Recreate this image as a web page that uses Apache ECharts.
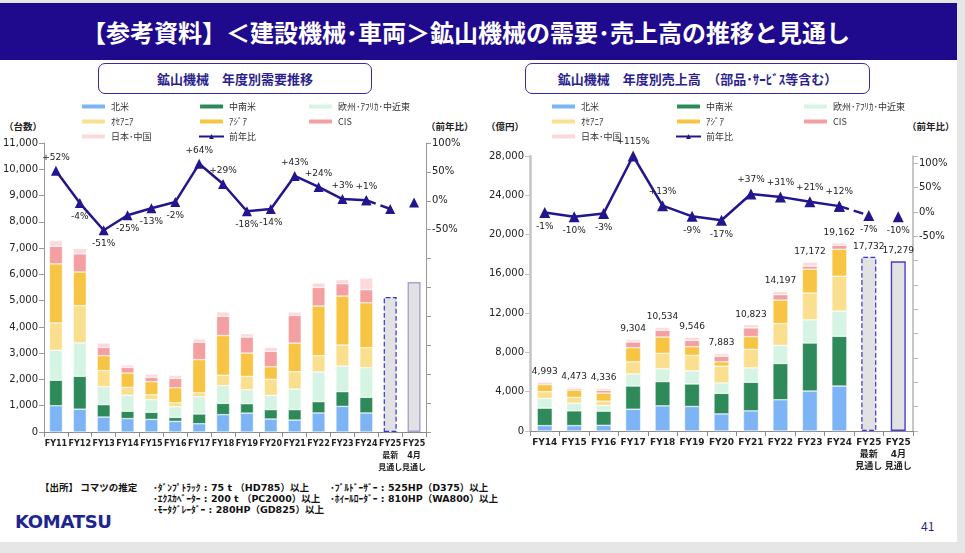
<!DOCTYPE html>
<html><head><meta charset="utf-8">
<script src="https://cdn.jsdelivr.net/npm/echarts@6/dist/echarts.min.js"></script>
<style>
html,body{margin:0;padding:0;width:965px;height:553px;overflow:hidden;background:#e6e6e6;font-family:'Noto Sans CJK JP','DejaVu Sans',sans-serif;}
#slide{position:absolute;left:0;top:3px;width:957px;height:539px;background:#fff;}
#banner{position:absolute;left:0;top:3px;width:932px;height:57px;padding-right:25px;background:#1f0a8e;color:#fff;font-weight:bold;font-size:24px;line-height:57px;text-align:center;}
.box{position:absolute;top:63px;height:29px;border:1.5px solid #3a2c9c;border-radius:7px;color:#2b1f8f;font-weight:bold;font-size:13px;line-height:29px;text-align:center;background:#fff;}
.aname{position:absolute;top:119px;font-size:9.5px;font-weight:bold;color:#222;white-space:nowrap;}
.ft{position:absolute;font-size:9.5px;font-weight:bold;color:#111;white-space:nowrap;line-height:11px;font-family:'DejaVu Sans','Noto Sans CJK JP',sans-serif;}
#logo{position:absolute;left:15px;top:511px;font-family:'DejaVu Sans',sans-serif;font-weight:bold;font-size:18px;color:#1c2590;letter-spacing:-0.3px;}
#page{position:absolute;left:921px;top:517px;font-size:12px;color:#2b1f8f;}
#chart{position:absolute;left:0;top:0;width:965px;height:553px;}
</style></head>
<body>
<div id="slide"></div>
<div id="banner">【参考資料】＜建設機械･車両＞鉱山機械の需要･売上高の推移と見通し</div>
<div class="box" style="left:98px;width:272px;">鉱山機械　年度別需要推移</div>
<div class="box" style="left:525px;width:343px;">鉱山機械　年度別売上高　（部品･ｻｰﾋﾞｽ等含む）</div>
<div class="aname" style="left:4px;">（台数）</div>
<div class="aname" style="left:426px;">（前年比）</div>
<div class="aname" style="left:486px;">（億円）</div>
<div class="aname" style="left:907px;">（前年比）</div>
<div class="ft" style="left:40px;top:482px;font-family:'Noto Sans CJK JP',sans-serif;">【出所】 コマツの推定</div>
<div class="ft" style="left:153px;top:482px;">･ﾀﾞﾝﾌﾟﾄﾗｯｸ : 75 t （HD785）以上</div>
<div class="ft" style="left:153px;top:493px;">･ｴｸｽｶﾍﾞｰﾀｰ : 200 t （PC2000）以上</div>
<div class="ft" style="left:153px;top:504px;">･ﾓｰﾀｸﾞﾚｰﾀﾞｰ : 280HP（GD825）以上</div>
<div class="ft" style="left:330px;top:482px;">･ﾌﾞﾙﾄﾞｰｻﾞｰ : 525HP（D375）以上</div>
<div class="ft" style="left:330px;top:493px;">･ﾎｲｰﾙﾛｰﾀﾞｰ : 810HP（WA800）以上</div>
<div id="logo">KOMATSU</div>
<div id="page">41</div>
<div id="chart"></div>
<script>
// ---------- data ----------
const regionNames = ['北米','中南米','欧州･ｱﾌﾘｶ･中近東','ｵｾｱﾆｱ','ｱｼﾞｱ','CIS','日本･中国'];
const yoyName = '前年比';

const demandCats = ['FY11','FY12','FY13','FY14','FY15','FY16','FY17','FY18','FY19','FY20','FY21','FY22','FY23','FY24','FY25\n最新\n見通し','FY25\n4月\n見通し'];
const demandNA      = [1000, 870, 570, 510, 480, 405, 315, 660, 720, 495, 455, 725, 975, 725];
const demandLatAm   = [ 970,1250, 470, 280, 270, 150, 370, 430, 355, 355, 395, 430, 560, 595];
const demandEMEA    = [1140,1270, 685, 610, 480, 405, 660, 675, 535, 545, 785,1130, 975,1130];
const demandOceania = [1040,1420, 610, 300, 190, 155, 150, 395, 505, 610, 660, 620, 800, 760];
const demandAsia    = [2250,1280, 570, 545, 495, 570,1260,1510, 890, 480,1090,1890,1865,1710];
const demandCIS     = [ 670, 690, 315, 215, 165, 355, 660, 735, 610, 585,1055, 710, 470, 495];
const demandJpCn    = [ 215, 200, 165,  90, 125, 115, 125, 165, 125, 150, 125, 165, 155, 445];
const demandOutlook = [5140, 5710];
const demandYoY     = [52,-4,-51,-25,-13,-2,64,29,-18,-14,43,24,3,1,-14,-3];
const demandYoYPos  = ['top','bottom','bottom','bottom','bottom','bottom','top','top','bottom','bottom','top','top','top','top','bottom','bottom'];

const salesCats = ['FY14','FY15','FY16','FY17','FY18','FY19','FY20','FY21','FY22','FY23','FY24','FY25\n最新\n見通し','FY25\n4月\n見通し'];
const salesNA      = [ 550, 550, 580,2220,2560,2500,1740,2050,3180,4070,4580];
const salesLatAm   = [1775,1500,1440,2360,2470,2290,2090,2910,3690,4890,5060];
const salesEMEA    = [ 990, 790, 580,1230,1300,1330,1060,1470,1850,2360,2570];
const salesOceania = [ 685, 580, 440,1230,1570,1570,1710,1880,2220,2730,3550];
const salesAsia    = [ 720, 750, 820,1440,1670, 890, 440,1300,2390,2430,2740];
const salesCIS     = [ 170, 140, 280, 580, 690, 650, 580, 890, 550, 310, 410];
const salesJpCn    = [ 103, 163, 196, 244, 274, 316, 263, 323, 317, 382, 252];
const salesTotals  = [4993,4473,4336,9304,10534,9546,7883,10823,14197,17172,19162];
const salesOutlook = [17732, 17279];
const salesYoY     = [-1,-10,-3,115,13,-9,-17,37,31,21,12,-7,-10];
const salesYoYPos  = ['bottom','bottom','bottom','top','top','bottom','bottom','top','top','top','top','bottom','bottom'];

// ---------- styles ----------
const regionColors = ['#7db4f6','#2e8a59','#d6f4e3','#fadf8e','#f8c443','#f4a0a2','#fcd9da'];
const lineColor = '#22168f';
const FONT = "'DejaVu Sans','Noto Sans CJK JP',sans-serif";
const fmtNum = v => Number(v).toLocaleString('en-US');
const fmtPct = v => (v > 0 ? '+' : '') + v + '%';

function buildSeries(cfg) {
  const n = cfg.segs[0].length;
  const out = [];
  cfg.segs.forEach((seg, k) => {
    const s = {
      name: regionNames[k], type: 'bar', stack: cfg.stack,
      xAxisIndex: cfg.xi, yAxisIndex: cfg.yl, barWidth: cfg.barWidth,
      itemStyle: { color: regionColors[k], borderColor: '#fff', borderWidth: 0.5 },
      data: cfg.cats.map((c, i) => i < n ? seg[i] : null)
    };
    if (k === cfg.segs.length - 1 && cfg.totals) {
      s.label = { show: true, position: 'top', distance: 6, fontSize: 9, color: '#222', fontFamily: FONT,
        formatter: p => fmtNum(cfg.totals[p.dataIndex]) };
    }
    out.push(s);
  });
  out.push({
    name: 'outlook', type: 'bar', stack: cfg.stack, xAxisIndex: cfg.xi, yAxisIndex: cfg.yl, barWidth: cfg.barWidth,
    label: { show: !!cfg.totals, position: 'top', distance: 6, fontSize: 9, color: '#222', fontFamily: FONT, formatter: p => fmtNum(p.value) },
    data: cfg.cats.map((c, i) => {
      if (i < n) return null;
      const j = i - n;
      return { value: cfg.outlook[j], itemStyle: j === 0
        ? { color: '#e2e2e2', borderColor: '#3535d0', borderWidth: 1.2, borderType: 'dashed' }
        : { color: '#e2e2e2', borderColor: cfg.solidBorder, borderWidth: 1.4 } };
    })
  });
  const lbl = { show: true, fontSize: 9, color: '#222', fontFamily: FONT, distance: 4, formatter: p => fmtPct(p.value) };
  const common = { type: 'line', xAxisIndex: cfg.xi, yAxisIndex: cfg.yr, symbol: 'triangle', symbolSize: cfg.sym,
    itemStyle: { color: lineColor }, z: 5 };
  out.push(Object.assign({}, common, {
    name: yoyName, lineStyle: { color: lineColor, width: 2.5 }, label: lbl,
    data: cfg.yoy.map((v, i) => i < n ? { value: v, label: { position: cfg.pos[i] } } : null)
  }));
  out.push(Object.assign({}, common, {
    name: 'yoyDash', lineStyle: { color: lineColor, width: 2.5, type: 'dashed' }, label: lbl,
    data: cfg.yoy.map((v, i) => (i === n - 1 || i === n)
      ? { value: v, label: { show: i === n && cfg.outlookLabels, position: cfg.pos[i] } } : null)
  }));
  out.push(Object.assign({}, common, {
    name: 'yoyApr', lineStyle: { width: 0 }, label: lbl,
    data: cfg.yoy.map((v, i) => i === n + 1 ? { value: v, label: { show: cfg.outlookLabels, position: cfg.pos[i] } } : null)
  }));
  return out;
}

function legends(lefts) {
  const cols = [[regionNames[0], regionNames[3], regionNames[6]], [regionNames[1], regionNames[4], yoyName], [regionNames[2], regionNames[5]]];
  return cols.map((d, c) => ({
    data: d, orient: 'vertical', left: lefts[c], top: 96, itemWidth: 25, itemHeight: 6, itemGap: 4,
    selectedMode: false, textStyle: { fontSize: 9, color: '#333', lineHeight: 11, fontFamily: "'Noto Sans CJK JP',sans-serif" }
  }));
}

const catAxis = (gi, data, lineC, fs) => ({
  type: 'category', gridIndex: gi, data: data,
  axisLine: { lineStyle: { color: lineC, width: 1 } },
  axisTick: { show: true, lineStyle: { color: lineC } },
  axisLabel: { interval: 0, fontSize: fs, fontWeight: 'bold', color: '#222', lineHeight: 12, margin: 6, fontFamily: FONT }
});
const valAxis = (gi, pos, min, max, interval, fmt, lineC, lw) => ({
  type: 'value', gridIndex: gi, position: pos, min: min, max: max, interval: interval,
  axisLine: { show: true, lineStyle: { color: lineC, width: lw } },
  axisTick: { show: true, lineStyle: { color: lineC } },
  splitLine: { show: false },
  axisLabel: { fontSize: 10, color: '#222', formatter: fmt, fontFamily: FONT, margin: 6 }
});

const option = {
  animation: false,
  textStyle: { fontFamily: FONT },
  grid: [
    { left: 41, right: 539, top: 143, bottom: 121 },
    { left: 530, right: 52, top: 156, bottom: 122 }
  ],
  legend: legends([75, 193, 302]).concat(legends([545, 670, 797])),
  xAxis: [catAxis(0, demandCats, '#8a8a8a', 8), catAxis(1, salesCats, '#8a8a8a', 9)],
  yAxis: [
    valAxis(0, 'left', 0, 11000, 1000, v => fmtNum(v), '#999', 1),
    valAxis(0, 'right', -400, 100, 50, v => (v >= -50 && v <= 100) ? v + '%' : '', '#999', 1),
    valAxis(1, 'left', 0, 28000, 4000, v => fmtNum(v), '#c4c4c4', 2.5),
    valAxis(1, 'right', -450, 115, 50, v => (v >= -50 && v <= 100) ? v + '%' : '', '#b5b5b5', 1.5)
  ],
  series: buildSeries({
    cats: demandCats, segs: [demandNA, demandLatAm, demandEMEA, demandOceania, demandAsia, demandCIS, demandJpCn],
    outlook: demandOutlook, yoy: demandYoY, pos: demandYoYPos, stack: 'd', xi: 0, yl: 0, yr: 1,
    barWidth: 13, sym: 10, totals: null, outlookLabels: false, solidBorder: '#a7a1d9'
  }).concat(buildSeries({
    cats: salesCats, segs: [salesNA, salesLatAm, salesEMEA, salesOceania, salesAsia, salesCIS, salesJpCn],
    outlook: salesOutlook, yoy: salesYoY, pos: salesYoYPos, stack: 's', xi: 1, yl: 2, yr: 3,
    barWidth: 15, sym: 11, totals: salesTotals, outlookLabels: true, solidBorder: '#4a3ccc'
  }))
};
const chart = echarts.init(document.getElementById('chart'), null, { renderer: 'canvas' });
chart.setOption(option);
</script>
</body></html>
